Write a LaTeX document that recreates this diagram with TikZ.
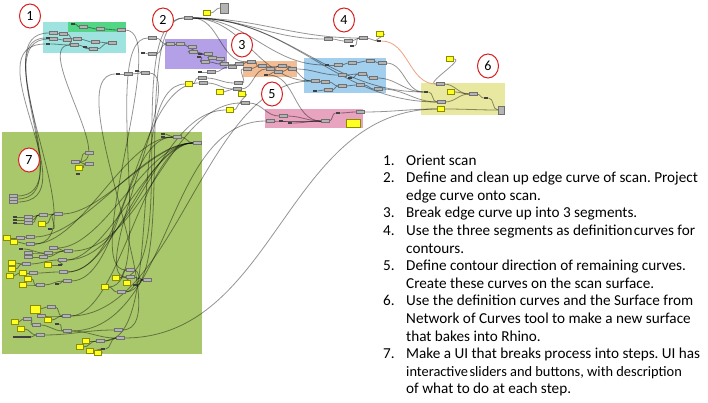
\documentclass[tikz,border=0pt]{standalone}
\usepackage{fontspec}
\usepackage{tikz}
\usetikzlibrary{shapes.geometric}
\newfontfamily\calfont{Carlito}
\frenchspacing
\definecolor{gcyan}{HTML}{9FE3E0}
\definecolor{gmint}{HTML}{52D685}
\definecolor{gpurple}{HTML}{B4A0E6}
\definecolor{gorange}{HTML}{F2BD94}
\definecolor{gblue}{HTML}{A3CFEE}
\definecolor{gpink}{HTML}{E8A3BF}
\definecolor{gyellow}{HTML}{E8E8A0}
\definecolor{ggreen}{HTML}{A9C86B}
\definecolor{compfill}{HTML}{B4B4B4}
\definecolor{compline}{HTML}{707070}
\definecolor{panfill}{HTML}{FFFF22}
\definecolor{panline}{HTML}{8C8C00}
\definecolor{salmon}{HTML}{F0A080}
\definecolor{tagred}{HTML}{D81E1E}
\pgfdeclarelayer{grp}
\pgfdeclarelayer{wires}
\pgfsetlayers{grp,wires,main}
\tikzset{
  comp/.style={rectangle,fill=compfill,draw=compline,line width=0.3pt,minimum width=8pt,minimum height=3.2pt,inner sep=0pt},
  pan/.style={rectangle,fill=panfill,draw=panline,line width=0.4pt,minimum width=7pt,minimum height=5pt,inner sep=0pt},
  dk/.style={rectangle,fill=black!75,minimum width=4.5pt,minimum height=2pt,inner sep=0pt},
  wire/.style={draw=black,draw opacity=0.42,line width=0.8pt,out=0,in=180},
  tag/.style={ellipse,draw=tagred,fill=white,line width=1pt,minimum width=21pt,minimum height=24pt,inner sep=0pt,font=\calfont\fontsize{14pt}{14pt}\selectfont},
  item/.style={anchor=mid west,inner sep=0pt,font=\calfont\fontsize{15.2pt}{18pt}\selectfont}
}
\begin{document}
\begin{tikzpicture}[x=1pt,y=-1pt]
  \useasboundingbox (0,0) rectangle (708,403);
  % groups
  \begin{pgfonlayer}{grp}
    \fill[gcyan] (43,22) rectangle (126,53);
    \fill[gmint] (68,22) rectangle (126,32);
    \fill[gpurple] (165,39) rectangle (227,69);
    \fill[gorange] (243,61) rectangle (297,77);
    \fill[gblue] (304,58) rectangle (386,93);
    \fill[gpink] (265,109) rectangle (363,128);
    \fill[gyellow] (421,83) rectangle (505,115);
    \fill[ggreen] (2,132) rectangle (202,354);
  \end{pgfonlayer}
  % components
  \foreach \nm/\x/\y in {a2/83/27, a3/100/29, a4/121/30, a5/53/33, a6/63/34, a8/53/39, a9/67/40, a10/77/39,
      a11/74/45, a12/95/42, a13/112/43, a14/93/49, b2/128/74, b3/145/73, b5/152/38, b7/152/54, e1/188/18,
      p1/170/44, p2/180/44, p3/192/47, p4/193/52, p6/208/54, p7/212/58, p8/220/59, p9/205/62, p10/224/64,
      q2/211/72, q3/202/78, q4/203/83, q7/238/83, q8/237/89, q10/245/103, q12/232/67, q13/239/64,
      o1/251/62, o2/247/69, o3/262/66, o4/270/69, o5/282/66, o6/278/72, o7/292/69,
      r1/328/39, r2/348/41, r3/363/38,
      u2/338/65, u3/352/63, u4/370/61, u5/382/63, u6/342/75, u7/362/74, u8/373/78, u9/315/81, u10/325/82,
      u11/342/86, u12/360/85, u13/378/89, u14/328/90, s1/440/84, s4/473/94, s5/441/102,
      k1/270/121, k2/283/116, k3/325/121, k5/360/112,
      g3/177/137, g4/197/143, g5/75/162, g6/89/153, g7/89/164, g10/13/196, g11/13/199, g12/13/202,
      g16/28/217, g17/28/220, g18/28/223, g19/43/215, g20/58/214, g24/20/238, g25/30/237, g27/30/244,
      g29/53/248, g30/68/251, g31/48/253, g32/28/253, g33/28/257, g34/43/257, g36/26/264, g39/62/260,
      g43/33/273, g44/63/272, g47/40/285, g48/67/281, g51/130/270, g52/130/277, g54/147/280, g55/121/292,
      g59/51/307, g60/41/316, g61/27/319, g64/36/325, g65/66/316, g68/67/331, g69/40/335, g71/118/330,
      g72/120/338, g73/100/341}
    \node[comp] (\nm) at (\x,\y) {};
  \foreach \nm/\x/\y in {e2/207/13, q5/189/84, q6/220/92, q9/242/94, q11/230/110, r4/380/34, s3/451/92,
      s7/441/109, s9/450/59, g8/79/168, g21/42/224, g23/7/238, g26/14/242, g35/12/263, g37/48/265,
      g40/12/269, g41/10/276, g42/23/273, g45/28/279, g46/23/285, g50/116/278, g53/127/283, g57/105/287,
      g62/48/320, g63/15/322, g67/21/329, g74/86/341, g75/80/347, g76/90/351, g78/98/353}
    \node[pan] (\nm) at (\x,\y) {};
  \foreach \nm/\x/\y in {a1/73/24, a7/48/38, a15/85/47, a16/48/44, b1/118/74, b4/137/71, b6/143/53,
      p5/200/54, p11/199/57, q1/200/72, o8/266/75, r5/379/41, r6/352/46, u1/327/65, u15/315/91, u16/350/78,
      s2/426/92, s6/486/98, k4/338/113, k7/281/121, k8/290/123, g1/163/134, g2/163/137, g9/78/174,
      g13/15/217, g14/15/220, g15/15/223, g22/50/229, g28/21/249, g38/60/265, g49/57/284, g56/135/285,
      g66/57/324, g77/103/349}
    \node[dk] (\nm) at (\x,\y) {};
  \node[comp,minimum width=8pt,minimum height=10pt] (e3) at (224,8) {};
  \node[comp,minimum width=6pt,minimum height=8pt] (s8) at (501,110) {};
  \node[pan,minimum width=14pt,minimum height=8pt] (k6) at (353,123) {};
  \node[pan,minimum width=10pt,minimum height=8pt] (g58) at (35,309) {};
  \node[dk,minimum width=18pt,minimum height=1.5pt] (g70) at (22,337) {};
  % wires
  \begin{pgfonlayer}{wires}
    \foreach \s/\t in {a5/a6, a6/a10, a8/a9, a9/a11, a10/a12, a12/a13, a1/a2, a2/a3, a3/a4, a11/a14,
        a14/a13, a15/a14, a7/a8, a16/a11, b1/b2, b4/b3, b2/b3, b6/b7, b7/p1, b5/p1,
        p1/p2, p2/p3, p3/p4, p4/p6, p5/p6, p6/p7, p7/p8, p8/p10, p9/p10, p11/p9,
        q1/q2, q2/q12, q12/q13, p10/q13, q13/o1, q3/q7, q4/q8, q5/q3, q6/q8, q9/q10, q11/q10,
        o1/o3, o2/o3, o3/o5, o4/o5, o5/o7, o6/o7, o8/o6, r1/r2, r2/r3, r6/r3, r3/r5, r4/r5,
        u1/u2, u2/u3, u3/u4, u4/u5, u6/u7, u7/u8, u16/u7, u9/u10, u10/u11, u11/u12, u12/u13, u14/u11, u15/u14,
        s2/s5, s1/s4, s3/s4, s5/s4, s4/s6, s6/s8, s7/s8, s9/s1, k1/k3, k2/k3, k7/k3, k8/k3, k3/k4, k4/k5,
        g1/g3, g2/g3, g3/g4, g5/g6, g5/g7, g8/g7, g13/g16, g14/g17, g15/g18, g16/g19, g17/g19, g18/g19,
        g19/g20, g21/g20, g22/g20, g23/g24, g24/g25, g26/g27, g28/g31, g32/g31, g33/g34, g34/g30, g31/g30,
        g29/g30, g35/g36, g40/g36, g36/g39, g37/g38, g38/g39, g41/g42, g42/g43, g43/g44, g45/g47, g46/g47,
        g47/g48, g49/g48, g50/g51, g53/g52, g51/g54, g52/g54, g57/g55, g55/g54, g56/g54, g58/g59, g59/g65,
        g60/g65, g62/g65, g63/g61, g61/g64, g64/g68, g66/g68, g67/g69, g70/g69, g69/g71, g68/g72, g73/g72,
        g74/g73, g75/g73, g76/g77, g78/g77, g77/g72}
      \draw[wire] (\s) to (\t);
    \foreach \s/\t/\l in {g10/a5/1, g11/a8/1, g12/a16/1.2, g27/a7/0.8, g5/a11/0.8, a4/g51/0.5,
        b3/g52/0.5, g71/b1/0.6, g72/s7/1, g55/e1/0.5, g50/e1/0.6, g57/b5/0.5, g73/q5/0.6, g44/q4/0.7,
        g30/q10/0.8, g39/q11/0.8, g68/k1/0.9, g65/u9/0.8, e1/r1/1, e1/r3/1, e1/u1/1, e1/u9/1, e1/s2/1,
        e1/s5/1, e1/o1/1, e2/e3/1, u5/s2/1, u8/s2/1, u13/s5/1, k5/s7/1, o7/u6/1, o5/u9/1, q7/o2/1,
        q8/o4/1, q10/k2/1, o8/k3/1, g25/g4/0.7, g27/g3/0.7, g29/g4/0.7, g20/g4/0.7, g44/g4/0.7,
        g48/g3/0.7, g39/g4/0.6, g65/g4/0.6}
      \draw[wire,looseness=\l] (\s) to (\t);
    \draw[wire,draw=salmon,draw opacity=1] (r5) to (s1);
  \end{pgfonlayer}
  % step tags
  \foreach \nm/\x/\y/\lab in {t1/30/16/1, t2/163/20/2, t3/242/45/3, t4/344/20/4, t5/272/94/5, t6/488/66/6, t7/29/160/7}
    \node[tag] (\nm) at (\x,\y) {\lab};
  % step list
  \foreach \i/\nm/\txt in {0/1./Orient scan, 1/2./Define and clean up edge curve of scan. Project,
      2//edge curve onto scan., 3/3./Break edge curve up into 3 segments.,
      4/4./Use the three segments as definition\hspace{1.5pt}curves for, 5//contours.,
      6/5./Define contour direction of remaining curves., 7//Create these curves on the scan surface.,
      8/6./Use the definition curves and the Surface from, 9//Network of Curves tool to make a new surface,
      10//that bakes into Rhino., 11/7./Make a UI that breaks process into steps. UI has,
      12//{\fontsize{14.4pt}{18pt}\selectfont interactive\hspace{1.5pt}sliders and buttons, with description},
      13//of what to do at each step.} {
    \node[item] (n\i) at (383,{163+\i*17.6}) {\nm};
    \node[item] (l\i) at (406,{163+\i*17.6}) {\txt};
  }
\end{tikzpicture}
\end{document}
